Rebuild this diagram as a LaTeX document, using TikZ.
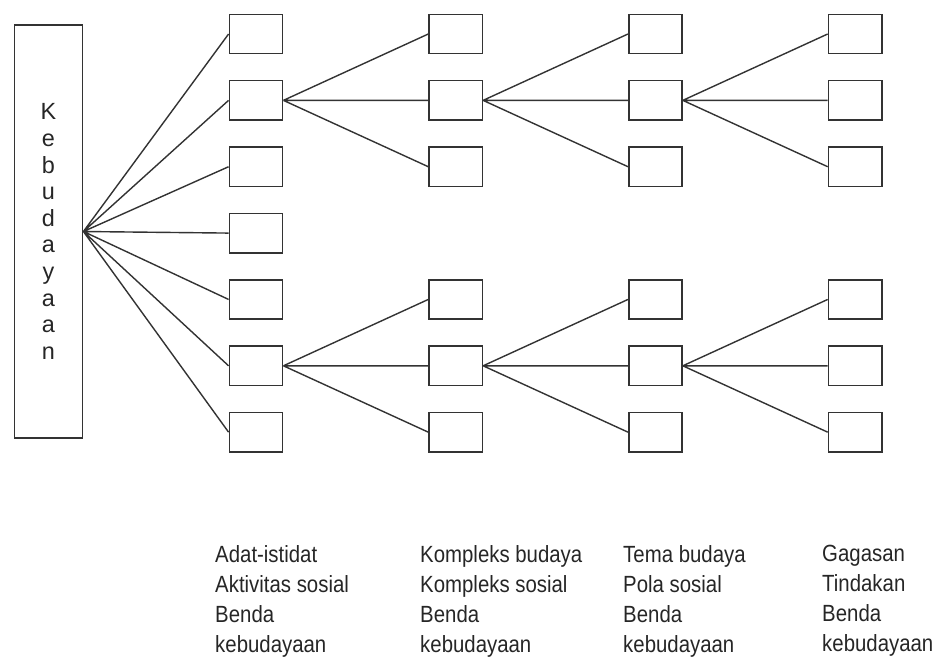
\documentclass[tikz,border=0pt]{standalone}
\usepackage{fontspec}
\setmainfont{Liberation Sans}
\newfontfamily\capfont[FakeStretch=0.87]{Liberation Sans}
\usetikzlibrary{positioning}

\begin{document}
\begin{tikzpicture}[
    x=0.03cm, y=-0.03cm,
    node distance=0.765cm and 4.345cm,
    slot/.style={rectangle, draw=black!80, line width=1.3pt, minimum width=1.6cm, minimum height=1.18cm, inner sep=0pt},
    mainbox/.style={rectangle, draw=black!80, line width=1.3pt, minimum width=2.05cm, minimum height=12.4cm, inner sep=0pt, align=center, text=black!85, font=\fontsize{20}{22.7}\selectfont},
    caption/.style={anchor=north west, inner sep=0pt, align=left, text=black!85, font=\capfont\fontsize{20}{25.6}\selectfont},
    link/.style={draw=black!80, line width=1.2pt}
]
\useasboundingbox (0,0) rectangle (936,661);

\node[mainbox] (kb) at (48.5,231.5) {K\\e\\b\\u\\d\\a\\y\\a\\a\\n};

% first column
\node[slot] (a1) at (256,34) {};
\node[slot, below=of a1] (a2) {};
\node[slot, below=of a2] (a3) {};
\node[slot, below=of a3] (a4) {};
\node[slot, below=of a4] (a5) {};
\node[slot, below=of a5] (a6) {};
\node[slot, below=of a6] (a7) {};

% second column
\node[slot, right=of a1] (b1) {};
\node[slot, below=of b1] (b2) {};
\node[slot, below=of b2] (b3) {};
\node[slot, right=of a5] (b5) {};
\node[slot, below=of b5] (b6) {};
\node[slot, below=of b6] (b7) {};

% third column
\node[slot, right=of b1] (c1) {};
\node[slot, below=of c1] (c2) {};
\node[slot, below=of c2] (c3) {};
\node[slot, right=of b5] (c5) {};
\node[slot, below=of c5] (c6) {};
\node[slot, below=of c6] (c7) {};

% fourth column
\node[slot, right=of c1] (d1) {};
\node[slot, below=of d1] (d2) {};
\node[slot, below=of d2] (d3) {};
\node[slot, right=of c5] (d5) {};
\node[slot, below=of d5] (d6) {};
\node[slot, below=of d6] (d7) {};

% captions
\node[caption] (t1) at (215,545) {Adat-istidat\\Aktivitas sosial\\Benda\\kebudayaan};
\node[caption] (t2) at (420,545) {Kompleks budaya\\Kompleks sosial\\Benda\\kebudayaan};
\node[caption] (t3) at (623,545) {Tema budaya\\Pola sosial\\Benda\\kebudayaan};
\node[caption] (t4) at (822,545) {Gagasan\\Tindakan\\Benda\\kebudayaan};

\draw[link] (kb.east) -- (a1.west) (kb.east) -- (a2.west) (kb.east) -- (a3.west)
    (kb.east) -- (a4.west) (kb.east) -- (a5.west) (kb.east) -- (a6.west) (kb.east) -- (a7.west);

\draw[link] (a2.east) -- (b1.west) (a2.east) -- (b2.west) (a2.east) -- (b3.west);
\draw[link] (b2.east) -- (c1.west) (b2.east) -- (c2.west) (b2.east) -- (c3.west);
\draw[link] (c2.east) -- (d1.west) (c2.east) -- (d2.west) (c2.east) -- (d3.west);

\draw[link] (a6.east) -- (b5.west) (a6.east) -- (b6.west) (a6.east) -- (b7.west);
\draw[link] (b6.east) -- (c5.west) (b6.east) -- (c6.west) (b6.east) -- (c7.west);
\draw[link] (c6.east) -- (d5.west) (c6.east) -- (d6.west) (c6.east) -- (d7.west);

\end{tikzpicture}
\end{document}
